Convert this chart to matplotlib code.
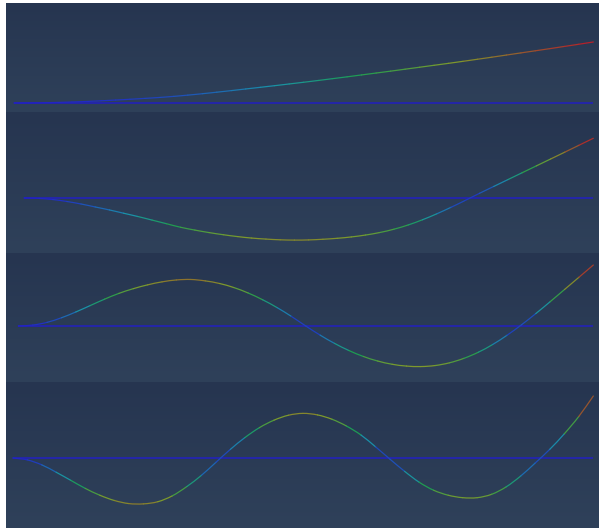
import numpy as np
import matplotlib
matplotlib.use("Agg")
import matplotlib.pyplot as plt
from matplotlib.collections import PathCollection
from matplotlib.colors import LinearSegmentedColormap, Normalize
from matplotlib.path import Path

# sample positions along the normalised domain
t = [i * 0.025 for i in range(41)]

mode_1 = [0.000, 0.001, 0.004, 0.009, 0.016, 0.025, 0.036, 0.048, 0.061, 0.075,
          0.090, 0.108, 0.129, 0.152, 0.177, 0.203, 0.230, 0.257, 0.284, 0.312,
          0.340, 0.369, 0.399, 0.429, 0.460, 0.491, 0.522, 0.554, 0.586, 0.618,
          0.650, 0.683, 0.717, 0.751, 0.786, 0.821, 0.856, 0.891, 0.927, 0.963,
          1.000]

mode_2 = [0.000, -0.006, -0.025, -0.058, -0.100, -0.150, -0.200, -0.255, -0.310, -0.370,
          -0.430, -0.490, -0.537, -0.579, -0.615, -0.646, -0.671, -0.688, -0.700, -0.705,
          -0.702, -0.691, -0.675, -0.652, -0.620, -0.578, -0.522, -0.451, -0.364, -0.265,
          -0.156, -0.041, 0.078, 0.193, 0.308, 0.423, 0.538, 0.653, 0.768, 0.884,
          1.000]

mode_3 = [0.000, 0.015, 0.060, 0.135, 0.230, 0.335, 0.440, 0.535, 0.612, 0.675,
          0.724, 0.755, 0.763, 0.740, 0.697, 0.630, 0.540, 0.430, 0.302, 0.157,
          0.000, -0.150, -0.285, -0.402, -0.499, -0.574, -0.627, -0.657, -0.665, -0.648,
          -0.603, -0.530, -0.430, -0.303, -0.151, 0.019, 0.204, 0.399, 0.599, 0.799,
          1.000]

mode_4 = [0.000, -0.030, -0.110, -0.230, -0.360, -0.490, -0.600, -0.685, -0.735, -0.740,
          -0.705, -0.610, -0.460, -0.280, -0.070, 0.140, 0.330, 0.490, 0.610, 0.690,
          0.720, 0.695, 0.625, 0.515, 0.370, 0.180, -0.020, -0.215, -0.390, -0.520,
          -0.600, -0.640, -0.640, -0.585, -0.465, -0.290, -0.080, 0.140, 0.390, 0.670,
          1.000]

modes = [mode_1, mode_2, mode_3, mode_4]

# panel layout in pixels (top, bottom) and axis limits
W, H = 599, 528
panel_rows = [(3, 112), (112, 253), (253, 382), (382, 528)]
x_limits = [(-0.0138, 1.0098), (-0.0316, 1.0100), (-0.0214, 1.0099), (-0.0115, 1.0098)]
y_limits = [(-0.1475, 1.639), (-0.921, 1.440), (-0.918, 1.197), (-1.129, 1.226)]

cmap = LinearSegmentedColormap.from_list(
    "amp",
    [(0.00, "#2222c4"), (0.28, "#1a92a8"), (0.45, "#1e9c52"),
     (0.66, "#7e9a2c"), (0.84, "#98532e"), (1.00, "#b81c2a")])
norm = Normalize(0.0, 1.0)

bg = LinearSegmentedColormap.from_list("bg", ["#263550", "#2f415a"])
grad = np.linspace(0, 1, 256).reshape(-1, 1)


def smooth_segments(x, y):
    """One cubic Bezier piece per pair of samples (Catmull-Rom tangents)."""
    p = np.column_stack([x, y])
    m = np.empty_like(p)
    m[1:-1] = 0.5 * (p[2:] - p[:-2])
    m[0] = p[1] - p[0]
    m[-1] = p[-1] - p[-2]
    codes = [Path.MOVETO, Path.CURVE4, Path.CURVE4, Path.CURVE4]
    paths = []
    for i in range(len(p) - 1):
        verts = [p[i], p[i] + m[i] / 3, p[i + 1] - m[i + 1] / 3, p[i + 1]]
        paths.append(Path(verts, codes))
    return paths


fig = plt.figure(figsize=(W / 100, H / 100), dpi=100, facecolor="white")

for (top, bot), xl, yl, vals in zip(panel_rows, x_limits, y_limits, modes):
    ax = fig.add_axes([6 / W, (H - bot) / H, (W - 6) / W, (bot - top) / H])
    ax.imshow(grad, cmap=bg, aspect="auto", extent=[0, 1, 0, 1],
              transform=ax.transAxes, origin="upper", zorder=0)
    ax.set_xlim(*xl)
    ax.set_ylim(*yl)
    ax.axis("off")

    x = np.asarray(t)
    y = np.asarray(vals)
    ax.hlines(0, x[0], x[-1], colors="#2424b0", linewidth=1.3, zorder=2)

    amp = np.abs(y)
    level = 0.5 * (amp[:-1] + amp[1:]) / amp.max()
    pc = PathCollection(smooth_segments(x, y), facecolors="none",
                        edgecolors=cmap(norm(level)), linewidths=0.9,
                        capstyle="round", joinstyle="round", zorder=3,
                        transform=ax.transData)
    ax.add_collection(pc, autolim=False)

fig.savefig("out.png", dpi=100, facecolor="white")
